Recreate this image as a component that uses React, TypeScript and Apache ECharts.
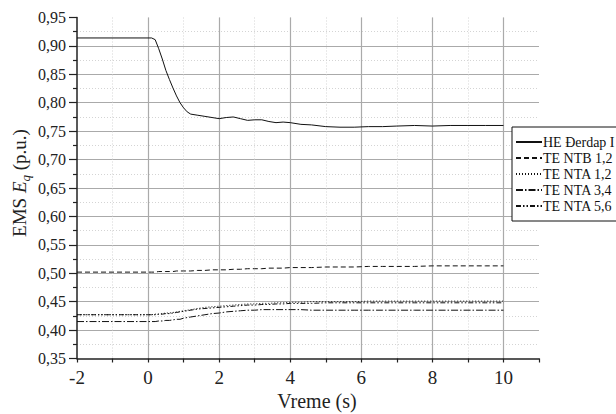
import React, { useEffect, useRef } from "react";
import * as echarts from "echarts";

const time = [-2, 0, 0.1, 0.2, 0.3, 0.4, 0.5, 0.6, 0.7, 0.8, 0.9, 1.0, 1.1, 1.2, 1.4, 1.6, 1.8, 2.0, 2.2, 2.4, 2.6, 2.8, 3.0, 3.2, 3.4, 3.6, 3.8, 4.0, 4.3, 4.6, 5.0, 5.4, 5.8, 6.2, 6.6, 7.0, 7.5, 8.0, 8.5, 9.0, 9.5, 10];

const heDerdap = [0.914, 0.914, 0.914, 0.911, 0.895, 0.877, 0.857, 0.841, 0.826, 0.812, 0.800, 0.791, 0.784, 0.780, 0.778, 0.776, 0.774, 0.772, 0.774, 0.775, 0.772, 0.769, 0.770, 0.770, 0.767, 0.765, 0.766, 0.765, 0.762, 0.761, 0.758, 0.757, 0.757, 0.758, 0.758, 0.759, 0.760, 0.759, 0.760, 0.760, 0.760, 0.760];
const teNtb12 = [0.502, 0.502, 0.502, 0.502, 0.503, 0.503, 0.503, 0.503, 0.503, 0.504, 0.504, 0.504, 0.504, 0.504, 0.505, 0.505, 0.506, 0.506, 0.506, 0.507, 0.507, 0.508, 0.508, 0.508, 0.509, 0.509, 0.509, 0.510, 0.510, 0.510, 0.511, 0.511, 0.511, 0.512, 0.512, 0.512, 0.512, 0.513, 0.513, 0.513, 0.513, 0.513];
const teNta12 = [0.427, 0.427, 0.427, 0.428, 0.428, 0.429, 0.430, 0.430, 0.431, 0.432, 0.433, 0.434, 0.435, 0.436, 0.438, 0.440, 0.441, 0.442, 0.443, 0.444, 0.445, 0.446, 0.446, 0.447, 0.447, 0.448, 0.448, 0.449, 0.449, 0.450, 0.450, 0.450, 0.450, 0.451, 0.451, 0.451, 0.451, 0.451, 0.451, 0.451, 0.451, 0.451];
const teNta34 = [0.415, 0.415, 0.415, 0.415, 0.416, 0.416, 0.417, 0.417, 0.418, 0.419, 0.419, 0.421, 0.422, 0.423, 0.425, 0.427, 0.429, 0.430, 0.432, 0.433, 0.434, 0.435, 0.435, 0.436, 0.436, 0.436, 0.436, 0.436, 0.436, 0.435, 0.435, 0.435, 0.435, 0.435, 0.435, 0.435, 0.435, 0.435, 0.435, 0.435, 0.435, 0.435];
const teNta56 = [0.427, 0.427, 0.427, 0.427, 0.428, 0.428, 0.429, 0.429, 0.430, 0.431, 0.432, 0.433, 0.434, 0.435, 0.437, 0.438, 0.439, 0.440, 0.441, 0.442, 0.443, 0.444, 0.444, 0.445, 0.445, 0.446, 0.446, 0.447, 0.447, 0.447, 0.448, 0.448, 0.448, 0.448, 0.448, 0.448, 0.448, 0.448, 0.448, 0.448, 0.448, 0.448];

const seriesNames = ["HE Đerdap I", "TE NTB 1,2", "TE NTA 1,2", "TE NTA 3,4", "TE NTA 5,6"];
const seriesValues = [heDerdap, teNtb12, teNta12, teNta34, teNta56];
const dashTypes: any[] = ["solid", [5, 3], [1, 2], [7, 2, 1.5, 2], [5, 2, 1.5, 2, 1.5, 2]];

const FONT = "Liberation Serif";

export default function App() {
  const ref = useRef<HTMLDivElement>(null);
  useEffect(() => {
    if (!ref.current) return;
    const chart = echarts.init(ref.current, undefined, { renderer: "svg" });
    const series = seriesNames.map((name, k) => ({
      name,
      type: "line",
      xAxisIndex: 0,
      yAxisIndex: 0,
      symbol: "none",
      showSymbol: false,
      data: time.map((t, i) => [t, seriesValues[k][i]]),
      lineStyle: { color: "#111", width: 1, type: dashTypes[k] },
      itemStyle: { color: "#111" },
      z: 5,
    }));
    chart.setOption({
      animation: false,
      backgroundColor: "#fff",
      grid: { left: 77, right: 77, top: 17.5, bottom: 55.5, containLabel: false },
      xAxis: [
        {
          type: "value",
          min: -2,
          max: 11,
          interval: 1,
          axisLine: { show: true, onZero: false, lineStyle: { color: "#222", width: 1.5 } },
          axisTick: { show: true, length: 4, lineStyle: { color: "#222", width: 1.2 } },
          axisLabel: {
            margin: 9,
            fontFamily: FONT,
            fontSize: 19,
            color: "#222",
            formatter: (v: number) => (Math.round(v) % 2 === 0 && v < 11 ? String(v) : ""),
          },
          splitLine: { show: true, showMinLine: false, showMaxLine: false, lineStyle: { color: "#d4d4d4", width: 1, type: [1, 2] } },
        },
        {
          type: "value",
          min: -2,
          max: 11,
          interval: 2,
          axisLine: { show: false },
          axisTick: { show: false },
          axisLabel: { show: false },
          splitLine: { show: true, showMinLine: false, showMaxLine: false, lineStyle: { color: "#aaaaaa", width: 1.2 } },
        },
      ],
      yAxis: {
        type: "value",
        min: 0.35,
        max: 0.95,
        interval: 0.05,
        axisLine: { show: true, onZero: false, lineStyle: { color: "#222", width: 1.5 } },
        axisTick: { show: true, length: 8, lineStyle: { color: "#222", width: 1.2 } },
        minorTick: { show: true, splitNumber: 2, length: 4, lineStyle: { color: "#222", width: 1.2 } },
        minorSplitLine: { show: true, lineStyle: { color: "#d4d4d4", width: 1, type: [1, 2] } },
        axisLabel: {
          margin: 11,
          fontFamily: FONT,
          fontSize: 16,
          color: "#222",
          formatter: (v: number) => v.toFixed(2).replace(".", ","),
        },
        splitLine: { show: true, showMinLine: false, showMaxLine: false, lineStyle: { color: "#aaaaaa", width: 1.2 } },
      },
      legend: {
        show: true,
        orient: "vertical",
        left: 512,
        top: 127,
        itemWidth: 26,
        itemHeight: 14,
        itemGap: 2,
        padding: [8, 60, 8, 3],
        borderColor: "#111",
        borderWidth: 1,
        backgroundColor: "#fff",
        itemStyle: { opacity: 0 },
        textStyle: { fontFamily: FONT, fontSize: 14, color: "#111", padding: [0, 0, 0, -4] },
        data: seriesNames,
        z: 10,
      },
      graphic: [
        {
          type: "text",
          x: 317,
          y: 401,
          style: {
            text: "Vreme (s)",
            fontFamily: FONT,
            fontSize: 20,
            fill: "#222",
            align: "center",
            verticalAlign: "middle",
          },
        },
        {
          type: "text",
          x: 19,
          y: 183,
          rotation: Math.PI / 2,
          style: {
            text: "EMS {e|E}{q|q} (p.u.)",
            fontFamily: FONT,
            fontSize: 19,
            fill: "#222",
            align: "center",
            verticalAlign: "middle",
            rich: {
              e: { fontFamily: FONT, fontSize: 19, fontStyle: "italic", fill: "#222" },
              q: { fontFamily: FONT, fontSize: 13, fontStyle: "italic", fill: "#222", padding: [12, 0, 0, 0] },
            },
          },
        },
      ],
      series,
    });
    return () => chart.dispose();
  }, []);
  return <div ref={ref} style={{ position: "fixed", left: 0, top: 0, width: 616, height: 414 }} />;
}
